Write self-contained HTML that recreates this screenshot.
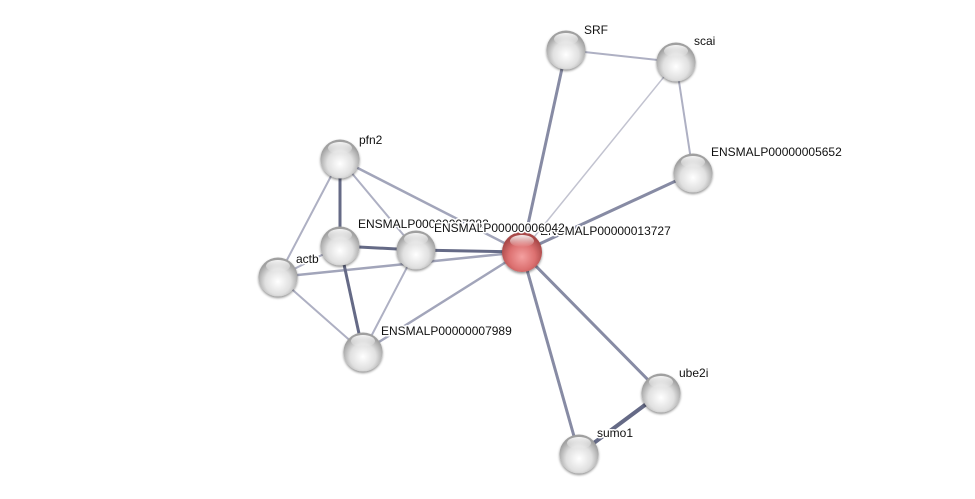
<!DOCTYPE html>
<html><head><meta charset="utf-8"><style>
html,body{margin:0;padding:0;background:#fff;}
svg{display:block;}
text{font-family:"Liberation Sans",Arial,sans-serif;font-size:12px;fill:#111;paint-order:stroke;stroke:#fff;stroke-width:3px;stroke-linejoin:round;}
</style></head><body>
<svg width="975" height="499" viewBox="0 0 975 499" xmlns="http://www.w3.org/2000/svg">
<defs>
<radialGradient id="g" cx="50%" cy="62%" r="55%">
<stop offset="0" stop-color="#ffffff"/><stop offset="0.6" stop-color="#e0e0e0"/><stop offset="1" stop-color="#a0a0a0"/>
</radialGradient>
<radialGradient id="r" cx="50%" cy="62%" r="55%">
<stop offset="0" stop-color="#f4a0a0"/><stop offset="0.6" stop-color="#dc7070"/><stop offset="1" stop-color="#a84848"/>
</radialGradient>
<linearGradient id="hl" x1="0" y1="0" x2="0" y2="1">
<stop offset="0" stop-color="#fff" stop-opacity="0.9"/><stop offset="1" stop-color="#fff" stop-opacity="0"/>
</linearGradient>
<filter id="sh" x="-30%" y="-30%" width="160%" height="160%"><feDropShadow dx="0" dy="1.5" stdDeviation="1.2" flood-color="#000" flood-opacity="0.45"/></filter>
</defs>
<g stroke-linecap="round">
<g stroke="#aeb0c3" stroke-width="2">
<line x1="340" y1="159" x2="278" y2="277"/>
<line x1="340" y1="159" x2="416" y2="250"/>
<line x1="278" y1="277" x2="340" y2="246"/>
<line x1="278" y1="277" x2="363" y2="352"/>
<line x1="416" y1="250" x2="363" y2="352"/>
<line x1="566" y1="50" x2="676" y2="62"/>
<line x1="676" y1="62" x2="693" y2="173"/>
</g>
<line x1="676" y1="62" x2="522" y2="252" stroke="#c2c3d0" stroke-width="1.5"/>
<g stroke="#a2a5ba" stroke-width="2.5">
<line x1="340" y1="159" x2="522" y2="252"/>
<line x1="278" y1="277" x2="522" y2="252"/>
<line x1="363" y1="352" x2="522" y2="252"/>
</g>
<g stroke="#878ba4" stroke-width="3">
<line x1="566" y1="50" x2="522" y2="252"/>
<line x1="693" y1="173" x2="522" y2="252"/>
<line x1="522" y1="252" x2="661" y2="393"/>
<line x1="522" y1="252" x2="579" y2="454"/>
</g>
<g stroke="#656a86" stroke-width="3">
<line x1="340" y1="159" x2="340" y2="246"/>
<line x1="340" y1="246" x2="416" y2="250"/>
<line x1="340" y1="246" x2="363" y2="352"/>
<line x1="416" y1="250" x2="522" y2="252"/>
<line x1="661" y1="393" x2="579" y2="454" stroke-width="4"/>
</g>
</g>
<g filter="url(#sh)">
<circle cx="340" cy="159" r="19.5" fill="url(#g)"/>
<circle cx="340" cy="246" r="19.5" fill="url(#g)"/>
<circle cx="416" cy="250" r="19.5" fill="url(#g)"/>
<circle cx="278" cy="277" r="19.5" fill="url(#g)"/>
<circle cx="363" cy="352" r="19.5" fill="url(#g)"/>
<circle cx="566" cy="50" r="19.5" fill="url(#g)"/>
<circle cx="676" cy="62" r="19.5" fill="url(#g)"/>
<circle cx="693" cy="173" r="19.5" fill="url(#g)"/>
<circle cx="661" cy="393" r="19.5" fill="url(#g)"/>
<circle cx="579" cy="454" r="19.5" fill="url(#g)"/>
<circle cx="522" cy="252" r="20" fill="url(#r)"/>
</g>
<g fill="url(#hl)">
<ellipse cx="340" cy="148" rx="12" ry="6"/>
<ellipse cx="340" cy="235" rx="12" ry="6"/>
<ellipse cx="416" cy="239" rx="12" ry="6"/>
<ellipse cx="278" cy="266" rx="12" ry="6"/>
<ellipse cx="363" cy="341" rx="12" ry="6"/>
<ellipse cx="566" cy="39" rx="12" ry="6"/>
<ellipse cx="676" cy="51" rx="12" ry="6"/>
<ellipse cx="693" cy="162" rx="12" ry="6"/>
<ellipse cx="661" cy="382" rx="12" ry="6"/>
<ellipse cx="579" cy="443" rx="12" ry="6"/>
<ellipse cx="522" cy="241" rx="12" ry="6"/>
</g>
<text x="359" y="144">pfn2</text>
<text x="358" y="228">ENSMALP00000007282</text>
<text x="540" y="235">ENSMALP00000013727</text>
<text x="434" y="232">ENSMALP00000006042</text>
<text x="296" y="263">actb</text>
<text x="381" y="335">ENSMALP00000007989</text>
<text x="584" y="34">SRF</text>
<text x="694" y="45">scai</text>
<text x="711" y="156">ENSMALP00000005652</text>
<text x="679" y="377">ube2i</text>
<text x="597" y="437">sumo1</text>
</svg>
</body></html>
